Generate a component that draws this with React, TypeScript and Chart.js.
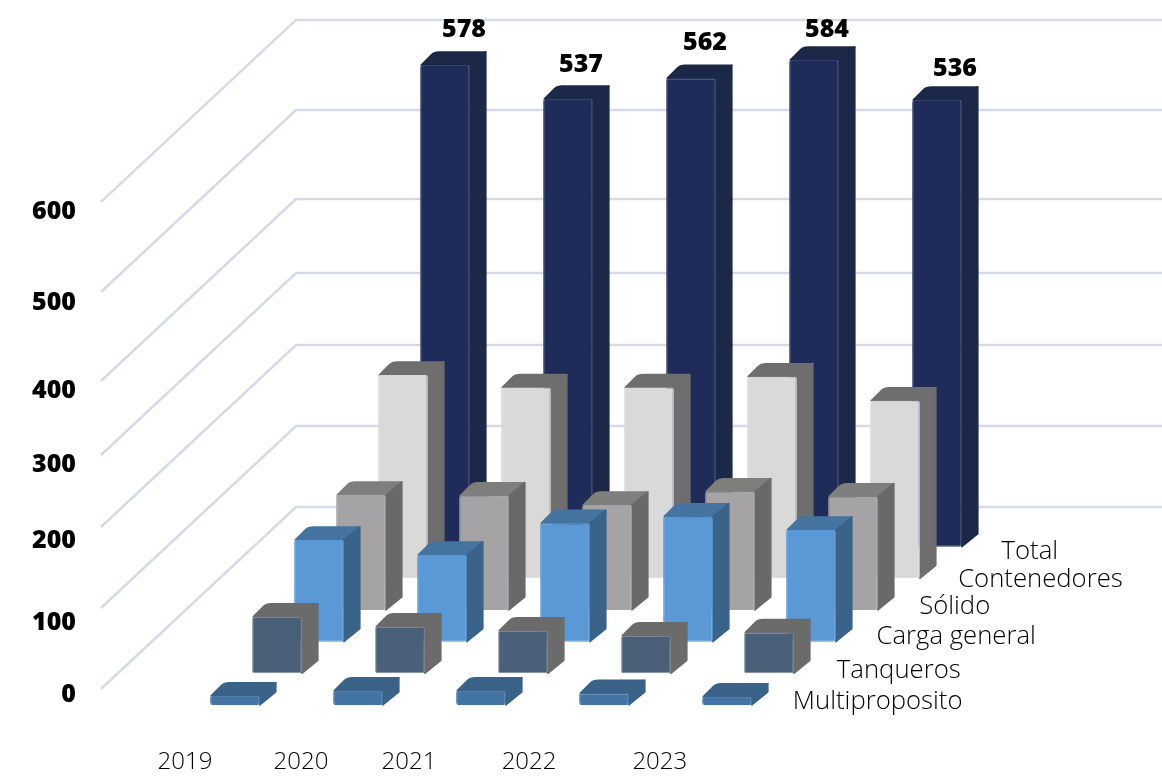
import React, { useEffect, useRef } from "react";
import { Chart, registerables } from "chart.js";

Chart.register(...registerables);

// ---- data ----
const years = ["2019", "2020", "2021", "2022", "2023"];
const seriesNames = ["Multiproposito", "Tanqueros", "Carga general", "Sólido", "Contenedores", "Total"];
const multiproposito = [11, 17, 17, 14, 10];
const tanqueros = [68, 56, 51, 45, 49];
const cargaGeneral = [122, 104, 142, 150, 134];
const solido = [138, 137, 126, 142, 136];
const contenedores = [244, 229, 229, 242, 213];
const total = [578, 537, 562, 584, 536];
const seriesValues = [multiproposito, tanqueros, cargaGeneral, solido, contenedores, total];
const yTickLabels = ["0", "100", "200", "300", "400", "500", "600"];

// ---- layout / style constants ----
const W = 1162;
const H = 776;
const DEPTH_STEP = 38; // floor rise per series, in value units
const DEPTH_DX = 16;
const DEPTH_DY = 13;
const WALL_DX = 195;
const WALL_RISE = 182;
const yLabelAnchors = [12.6, 99, 197.4, 288.6, 377.4, 483, 592];
const gridLevels = [19.2, 116.4, 213.6, 300, 388.8, 495.6, 603.6];
const yearAnchors = [-1.26, -0.317, 0.561, 1.537, 2.6];
const frontColors = ["#4474a3", "#4a5f78", "#5b98d6", "#a5a3a5", "#d9d9d9", "#1f2c5a"];
const edgeColors = ["#4474a3", "#7d8a9a", "#5b98d6", "#a5a3a5", "#d9d9d9", "#353f6b"];
const sideColors = ["#3b6288", "#6b6b6b", "#3a6389", "#696969", "#6e6e6e", "#1c2848"];
const topColors = ["#3b6288", "#6b6b6b", "#44749f", "#7e7f7d", "#6e6e6e", "#1c2848"];
const seriesLabelDX = [41, 43, 40.7, 41.3, 38.3, 39.7];
const seriesLabelDY = [-3, -3, -4.7, -3, 1, 5.3];
const totalLabelDX = [19, 13, 14, 13, 18];
const totalLabelDY = [-35, -34, -35, -30, -31];
const BOLD_FONT = "800 25px 'Open Sans'";
const LIGHT_FONT = "300 25.7px 'Open Sans'";

const facePlugin = {
  id: "faces3d",
  beforeDatasetsDraw(chart: any) {
    const { ctx, scales } = chart;
    const x0 = 101;
    ctx.save();
    ctx.strokeStyle = "#d5dae8";
    ctx.lineWidth = 2.5;
    ctx.lineJoin = "miter";
    gridLevels.forEach((lvl) => {
      const y = scales.y.getPixelForValue(lvl);
      ctx.beginPath();
      ctx.moveTo(x0, y);
      ctx.lineTo(x0 + WALL_DX, y - WALL_RISE);
      ctx.lineTo(W, y - WALL_RISE);
      ctx.stroke();
    });
    ctx.restore();
  },
  beforeDatasetDraw(chart: any, args: any) {
    const { ctx } = chart;
    const i = args.index;
    ctx.save();
    ctx.lineJoin = "round";
    ctx.lineWidth = 1.5;
    args.meta.data.forEach((el: any) => {
      const p = el.getProps(["x", "y", "base", "width"], true);
      const l = p.x - p.width / 2;
      const r = p.x + p.width / 2;
      const t = p.y;
      const b = p.base;
      ctx.fillStyle = ctx.strokeStyle = topColors[i];
      ctx.beginPath();
      ctx.moveTo(l + 1, t);
      ctx.lineTo(l + DEPTH_DX - 5, t - DEPTH_DY + 3);
      ctx.quadraticCurveTo(l + DEPTH_DX - 2, t - DEPTH_DY, l + DEPTH_DX + 3, t - DEPTH_DY);
      ctx.lineTo(r + DEPTH_DX, t - DEPTH_DY);
      ctx.lineTo(r, t);
      ctx.closePath();
      ctx.fill();
      ctx.stroke();
      ctx.fillStyle = ctx.strokeStyle = sideColors[i];
      ctx.beginPath();
      ctx.moveTo(r, t);
      ctx.lineTo(r + DEPTH_DX, t - DEPTH_DY);
      ctx.lineTo(r + DEPTH_DX, b - DEPTH_DY);
      ctx.lineTo(r, b);
      ctx.closePath();
      ctx.fill();
      ctx.stroke();
    });
    ctx.restore();
  },
  afterDatasetsDraw(chart: any) {
    const { ctx } = chart;
    ctx.save();
    ctx.textBaseline = "middle";
    seriesNames.forEach((name, i) => {
      const meta = chart.getDatasetMeta(i);
      const el = meta.data[meta.data.length - 1];
      ctx.font = LIGHT_FONT;
      ctx.fillStyle = "#000000";
      ctx.textAlign = "left";
      ctx.fillText(name, el.x + el.width / 2 + seriesLabelDX[i], el.base + seriesLabelDY[i]);
    });
    const last = chart.getDatasetMeta(seriesNames.length - 1);
    last.data.forEach((el: any, k: number) => {
      ctx.font = BOLD_FONT;
      ctx.fillStyle = "#000000";
      ctx.textAlign = "center";
      ctx.fillText(String(total[k]), el.x + totalLabelDX[k], el.y + totalLabelDY[k]);
    });
    ctx.restore();
  },
};

export default function App() {
  const ref = useRef<HTMLCanvasElement | null>(null);
  useEffect(() => {
    if (!ref.current) return;
    const chart = new Chart(ref.current, {
      type: "bar",
      data: {
        labels: years,
        datasets: seriesValues.map((vals, i) => ({
          label: seriesNames[i],
          data: vals.map((v) => [i * DEPTH_STEP, i * DEPTH_STEP + v]),
          backgroundColor: frontColors[i],
          borderColor: edgeColors[i],
          borderWidth: 1,
          borderSkipped: false,
          borderRadius: 2,
          categoryPercentage: 252 / 123,
          barPercentage: 49.7 / 42,
          clip: false,
          xAxisID: "x",
          yAxisID: "y",
        })),
      } as any,
      options: {
        responsive: false,
        animation: false,
        layout: { padding: { left: 0, right: W - 893.5, top: 0, bottom: 0 } },
        plugins: { legend: { display: false }, tooltip: { enabled: false }, title: { display: false } },
        scales: {
          x: { type: "category", display: false, stacked: false },
          x2: {
            type: "linear",
            axis: "x",
            position: "bottom",
            offset: false,
            min: -0.5,
            max: 4.5,
            grid: { display: false, drawTicks: false, offset: false },
            border: { display: false },
            afterBuildTicks: (s: any) => {
              s.ticks = yearAnchors.map((value) => ({ value }));
            },
            afterFit: (s: any) => {
              s.height = 46;
              s.paddingLeft = 0;
              s.paddingRight = 0;
            },
            ticks: {
              autoSkip: false,
              maxRotation: 0,
              padding: 18,
              color: "#000000",
              font: { family: "Open Sans", size: 24, weight: "300" },
              callback: (_v: any, i: number) => years[i],
            },
          },
          y: {
            type: "linear",
            position: "left",
            min: -30,
            max: 705 / 0.8334,
            grid: { display: false, drawTicks: false },
            border: { display: false },
            afterBuildTicks: (s: any) => {
              s.ticks = yLabelAnchors.map((value) => ({ value }));
            },
            afterFit: (s: any) => {
              s.width = 278.5;
              s.paddingTop = 0;
              s.paddingBottom = 0;
            },
            ticks: {
              autoSkip: false,
              padding: 202.5,
              color: "#000000",
              font: { family: "Open Sans", size: 25, weight: "800" },
              callback: (_v: any, i: number) => yTickLabels[i],
            },
          },
        },
      } as any,
      plugins: [facePlugin],
    });
    return () => chart.destroy();
  }, []);
  return (
    <div style={{ position: "absolute", left: 0, top: 0, width: W, height: H, background: "#fff" }}>
      <canvas ref={ref} width={W} height={H} style={{ display: "block" }} />
    </div>
  );
}
